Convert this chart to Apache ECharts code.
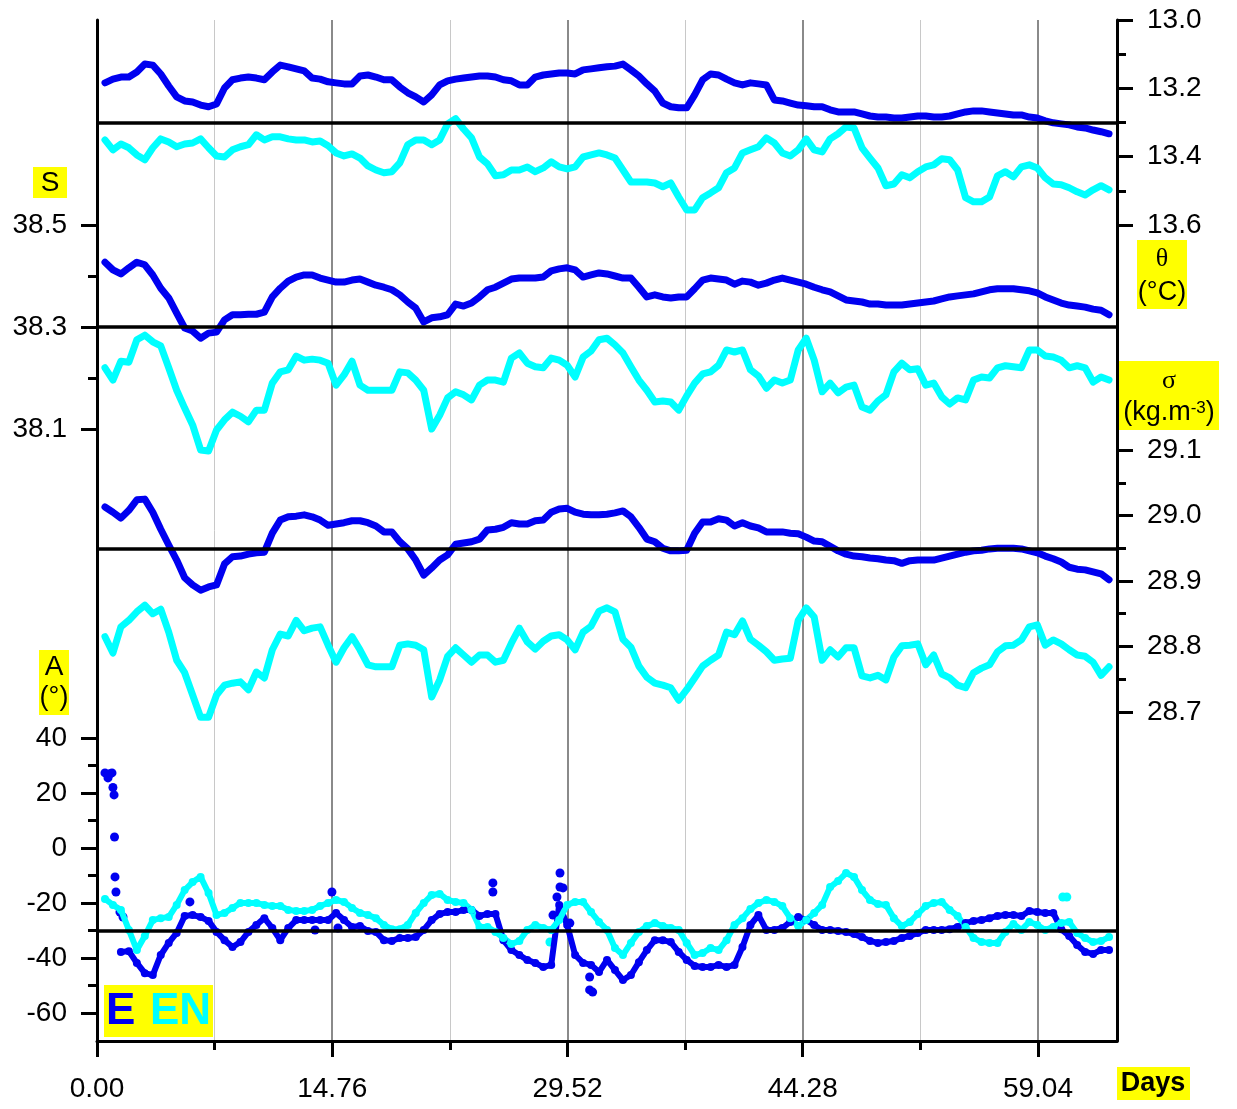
<!DOCTYPE html>
<html>
<head>
<meta charset="utf-8">
<script src="https://cdn.jsdelivr.net/npm/echarts@6/dist/echarts.min.js"></script>
<style>
  html, body { margin: 0; padding: 0; background: #ffffff; }
  #chart { width: 1237px; height: 1109px; }
</style>
</head>
<body>
<div id="chart"></div>
<script>
// Mooring record: potential temperature, salinity, density and current angle
// at two stations (E and EN), sampled every half day.
const days = [
  0.5,1,1.5,2,2.5,3,3.5,4,4.5,5,
  5.5,6,6.5,7,7.5,8,8.5,9,9.5,10,
  10.5,11,11.5,12,12.5,13,13.5,14,14.5,15,
  15.5,16,16.5,17,17.5,18,18.5,19,19.5,20,
  20.5,21,21.5,22,22.5,23,23.5,24,24.5,25,
  25.5,26,26.5,27,27.5,28,28.5,29,29.5,30,
  30.5,31,31.5,32,32.5,33,33.5,34,34.5,35,
  35.5,36,36.5,37,37.5,38,38.5,39,39.5,40,
  40.5,41,41.5,42,42.5,43,43.5,44,44.5,45,
  45.5,46,46.5,47,47.5,48,48.5,49,49.5,50,
  50.5,51,51.5,52,52.5,53,53.5,54,54.5,55,
  55.5,56,56.5,57,57.5,58,58.5,59,59.5,60,
  60.5,61,61.5,62,62.5,63,63.5
];

// Potential temperature (°C)
const thetaE = [
  13.184,13.173,13.167,13.167,13.152,13.129,13.132,13.158,13.193,13.225,
  13.237,13.240,13.249,13.254,13.246,13.199,13.175,13.170,13.167,13.170,
  13.175,13.152,13.132,13.137,13.143,13.149,13.170,13.173,13.181,13.184,
  13.187,13.187,13.164,13.161,13.167,13.175,13.175,13.196,13.213,13.225,
  13.240,13.219,13.190,13.178,13.173,13.170,13.167,13.164,13.164,13.167,
  13.175,13.178,13.190,13.190,13.167,13.161,13.158,13.155,13.155,13.158,
  13.146,13.143,13.140,13.137,13.135,13.129,13.146,13.164,13.187,13.208,
  13.243,13.254,13.257,13.257,13.219,13.175,13.158,13.161,13.173,13.184,
  13.190,13.184,13.187,13.190,13.234,13.237,13.243,13.249,13.251,13.254,
  13.254,13.263,13.269,13.269,13.269,13.275,13.281,13.284,13.284,13.287,
  13.287,13.284,13.281,13.281,13.284,13.284,13.281,13.275,13.269,13.266,
  13.266,13.269,13.272,13.275,13.278,13.278,13.284,13.287,13.295,13.301,
  13.304,13.307,13.313,13.316,13.322,13.327,13.333
];
const thetaEN = [
  13.351,13.380,13.363,13.374,13.395,13.409,13.374,13.348,13.357,13.371,
  13.363,13.360,13.348,13.374,13.398,13.401,13.380,13.371,13.365,13.336,
  13.351,13.342,13.342,13.348,13.351,13.351,13.357,13.354,13.368,13.389,
  13.398,13.392,13.404,13.427,13.439,13.447,13.444,13.418,13.365,13.351,
  13.351,13.365,13.351,13.304,13.289,13.319,13.345,13.401,13.421,13.456,
  13.453,13.439,13.439,13.430,13.444,13.433,13.415,13.430,13.436,13.430,
  13.401,13.395,13.389,13.395,13.404,13.439,13.474,13.474,13.474,13.477,
  13.488,13.477,13.518,13.556,13.556,13.520,13.506,13.491,13.447,13.433,
  13.389,13.380,13.371,13.345,13.360,13.389,13.398,13.380,13.348,13.380,
  13.386,13.348,13.333,13.313,13.316,13.374,13.404,13.433,13.485,13.480,
  13.453,13.462,13.444,13.430,13.424,13.406,13.409,13.439,13.520,13.532,
  13.532,13.518,13.456,13.444,13.459,13.430,13.424,13.433,13.462,13.480,
  13.482,13.491,13.503,13.512,13.497,13.485,13.497
];

// Salinity
const salE = [
  38.427,38.412,38.404,38.416,38.427,38.422,38.402,38.376,38.357,38.327,
  38.298,38.292,38.278,38.288,38.290,38.314,38.324,38.324,38.325,38.325,
  38.329,38.359,38.376,38.390,38.398,38.402,38.402,38.396,38.392,38.388,
  38.388,38.392,38.394,38.388,38.382,38.378,38.373,38.363,38.349,38.337,
  38.310,38.318,38.320,38.324,38.345,38.341,38.347,38.359,38.373,38.378,
  38.386,38.394,38.396,38.396,38.396,38.398,38.410,38.414,38.416,38.412,
  38.398,38.402,38.406,38.404,38.400,38.396,38.396,38.378,38.359,38.363,
  38.359,38.357,38.359,38.359,38.375,38.392,38.396,38.394,38.392,38.384,
  38.390,38.388,38.382,38.386,38.392,38.396,38.392,38.388,38.384,38.378,
  38.373,38.369,38.361,38.353,38.351,38.349,38.345,38.345,38.343,38.343,
  38.343,38.345,38.347,38.349,38.351,38.355,38.359,38.361,38.363,38.365,
  38.369,38.373,38.375,38.375,38.375,38.373,38.371,38.367,38.359,38.353,
  38.347,38.343,38.341,38.339,38.335,38.333,38.324
];
const salEN = [
  38.220,38.196,38.233,38.231,38.275,38.284,38.271,38.263,38.220,38.176,
  38.141,38.108,38.059,38.057,38.098,38.118,38.133,38.125,38.114,38.137,
  38.137,38.190,38.212,38.216,38.243,38.235,38.237,38.235,38.229,38.186,
  38.206,38.233,38.186,38.176,38.176,38.176,38.176,38.212,38.210,38.196,
  38.176,38.100,38.127,38.161,38.173,38.167,38.157,38.186,38.196,38.196,
  38.192,38.239,38.249,38.229,38.222,38.220,38.239,38.235,38.225,38.202,
  38.241,38.253,38.275,38.278,38.265,38.249,38.222,38.196,38.176,38.153,
  38.155,38.153,38.137,38.165,38.190,38.208,38.212,38.225,38.255,38.251,
  38.255,38.216,38.204,38.180,38.196,38.190,38.196,38.255,38.278,38.235,
  38.173,38.190,38.171,38.182,38.186,38.143,38.137,38.155,38.167,38.212,
  38.229,38.216,38.218,38.186,38.190,38.163,38.149,38.161,38.157,38.196,
  38.202,38.200,38.220,38.224,38.222,38.220,38.255,38.255,38.243,38.241,
  38.235,38.220,38.224,38.220,38.192,38.202,38.196
];

// Potential density (kg.m-3)
const sigmaE = [
  29.013,29.005,28.996,29.008,29.024,29.025,29.005,28.979,28.955,28.932,
  28.905,28.894,28.886,28.891,28.894,28.926,28.937,28.938,28.941,28.943,
  28.944,28.973,28.993,28.998,28.999,29.001,28.998,28.993,28.985,28.987,
  28.989,28.992,28.992,28.989,28.984,28.975,28.975,28.960,28.949,28.932,
  28.909,28.920,28.932,28.940,28.956,28.958,28.960,28.964,28.978,28.979,
  28.982,28.989,28.987,28.987,28.992,28.993,29.005,29.010,29.011,29.005,
  29.002,29.001,29.001,29.002,29.004,29.007,28.998,28.982,28.964,28.960,
  28.950,28.946,28.946,28.947,28.973,28.990,28.990,28.995,28.993,28.984,
  28.989,28.984,28.981,28.975,28.975,28.975,28.973,28.972,28.967,28.961,
  28.960,28.953,28.946,28.941,28.938,28.937,28.935,28.934,28.932,28.931,
  28.927,28.931,28.932,28.932,28.932,28.935,28.938,28.941,28.944,28.946,
  28.947,28.949,28.950,28.950,28.950,28.949,28.946,28.943,28.938,28.934,
  28.929,28.921,28.918,28.917,28.914,28.911,28.902
];
const sigmaEN = [
  28.815,28.790,28.830,28.840,28.853,28.863,28.850,28.857,28.822,28.779,
  28.760,28.726,28.692,28.692,28.726,28.741,28.744,28.746,28.734,28.761,
  28.752,28.795,28.819,28.816,28.840,28.824,28.828,28.830,28.802,28.776,
  28.798,28.815,28.795,28.772,28.769,28.769,28.769,28.802,28.804,28.802,
  28.795,28.723,28.749,28.785,28.798,28.787,28.776,28.787,28.787,28.776,
  28.779,28.805,28.828,28.807,28.796,28.808,28.816,28.818,28.810,28.795,
  28.822,28.831,28.854,28.859,28.853,28.811,28.799,28.770,28.753,28.744,
  28.741,28.737,28.718,28.734,28.752,28.770,28.779,28.787,28.822,28.818,
  28.839,28.811,28.802,28.792,28.779,28.781,28.782,28.840,28.859,28.845,
  28.779,28.795,28.784,28.798,28.798,28.755,28.752,28.756,28.749,28.784,
  28.801,28.802,28.804,28.772,28.787,28.758,28.752,28.741,28.737,28.760,
  28.767,28.772,28.792,28.801,28.802,28.810,28.830,28.833,28.802,28.810,
  28.804,28.795,28.787,28.785,28.776,28.756,28.769
];

// Current direction angle (°)
const angleE = [
  null,null,-37.8,-37.5,-41.8,-45.5,-46.2,-38.9,-34.5,-30.9,
  -24.7,-24.4,-25.1,-26.5,-30.5,-33.5,-36.0,-34.2,-30.5,-28.0,
  -25.5,-29.1,-33.5,-29.1,-26.2,-26.2,-26.2,-26.2,-26.2,-23.6,
  -26.2,-28.7,-28.4,-30.2,-30.5,-33.5,-33.8,-32.7,-32.7,-32.4,
  -29.8,-26.2,-24.0,-23.3,-23.3,-22.5,-22.5,-24.7,-24.0,-24.0,
  -33.5,-37.1,-38.9,-40.7,-41.8,-43.3,-42.5,-20.7,-28.0,-38.9,
  -41.8,-42.5,-45.1,-40.7,-44.4,-48.0,-46.2,-41.5,-37.1,-33.5,
  -33.5,-34.2,-37.8,-40.7,-42.9,-43.3,-43.3,-42.5,-43.3,-42.5,
  -36.0,-28.0,-24.4,-29.8,-29.8,-29.1,-26.9,-25.1,-26.2,-28.0,
  -29.8,-29.8,-30.2,-30.5,-31.3,-32.4,-33.8,-34.5,-34.2,-33.8,
  -32.7,-32.0,-30.9,-29.8,-29.8,-29.8,-29.5,-28.7,-27.3,-26.5,
  -26.2,-25.5,-24.7,-24.4,-24.4,-24.7,-22.9,-23.3,-23.6,-23.6,
  -29.5,-32.0,-35.3,-37.8,-38.5,-37.1,-37.1
];
const angleEN = [
  -18.5,-20.7,-22.5,-29.8,-37.1,-32.0,-26.2,-25.5,-25.1,-20.7,
  -15.3,-12.4,-10.5,-16.4,-24.4,-23.6,-21.8,-20.0,-20.0,-20.0,
  -20.7,-21.1,-21.1,-22.5,-22.9,-22.9,-22.5,-21.1,-20.0,-18.9,
  -19.6,-21.8,-23.6,-24.4,-25.5,-28.0,-29.5,-29.5,-28.0,-23.6,
  -20.0,-17.1,-16.7,-18.9,-19.6,-20.0,-22.5,-28.7,-28.7,-30.5,
  -32.7,-34.9,-33.8,-29.8,-28.0,-29.1,-29.8,-26.2,-20.7,-19.6,
  -19.6,-23.3,-26.9,-29.8,-36.4,-38.9,-34.5,-30.5,-28.4,-27.3,
  -28.4,-29.1,-29.8,-34.5,-38.9,-38.2,-36.4,-37.1,-33.5,-28.0,
  -25.5,-22.2,-20.0,-18.9,-19.6,-21.1,-25.5,-28.4,-26.2,-23.6,
  -20.7,-14.2,-12.0,-9.1,-10.5,-15.3,-18.9,-20.4,-20.7,-25.5,
  -28.4,-26.9,-24.0,-21.1,-20.0,-19.6,-22.5,-24.7,-28.7,-32.7,
  -34.2,-34.5,-34.5,-30.5,-27.6,-29.8,-26.9,-28.0,-29.8,-28.7,
  -27.3,-26.9,-30.9,-32.7,-34.2,-33.8,-32.4
];
// Isolated angle readings [day, angle]
const angleSpikesE = [
  [0.50,27.3],[0.69,25.5],[0.82,27.0],[0.94,27.3],[1.00,22.0],[1.07,19.3],
  [1.10,4.0],[1.13,-10.5],[1.19,-16.0],[1.44,-23.3],[1.63,-25.1],[5.83,-19.6],
  [13.68,-29.8],[14.74,-16.0],[15.12,-29.1],[24.84,-12.7],[24.84,-16.0],
  [28.61,-24.4],[28.86,-17.8],[29.05,-9.1],[29.05,-14.2],[29.24,-14.5],
  [29.67,-27.3],[30.91,-46.9],[30.91,-51.6],[31.10,-52.4]
];
const angleSpikesEN = [[28.42,-34.2],[60.60,-17.8],[60.85,-17.8]];

// Axis ticks
const dayTicks = [0, 14.76, 29.52, 44.28, 59.04];
const dayMinorTicks = [7.38, 22.14, 36.9, 51.66];
const thetaTicks = [13.0, 13.2, 13.4, 13.6];
const thetaMinorTicks = [13.1, 13.3, 13.5];
const salTicks = [38.1, 38.3, 38.5];
const salMinorTicks = [38.2, 38.4];
const sigmaTicks = [28.7, 28.8, 28.9, 29.0, 29.1];
const sigmaMinorTicks = [28.75, 28.85, 28.95, 29.05];
const angleTicks = [-60, -40, -20, 0, 20, 40];
const angleMinorTicks = [-50, -30, -10, 10, 30];

// Reference levels drawn across each panel
const refTheta = 13.3;
const refSal = 38.3;
const refSigma = 28.95;
const refAngle = -30;

const FONT = "'Liberation Sans', Arial, sans-serif";
const SERIF = "'Liberation Serif', 'Times New Roman', serif";
const BLUE = '#0000f0';
const CYAN = '#00ffff';
const YELLOW = '#ffff00';
const DAY_MAX = 64;

const chart = echarts.init(document.getElementById('chart'), null, { renderer: 'canvas' });

const L = 97, R = 120;
const grids = [
  { left: L, right: R, top: 20, bottom: 68 },       // frame, day axis
  { left: L, right: R, top: 20, height: 205 },      // theta
  { left: L, right: R, top: 225, height: 204 },     // salinity
  { left: L, right: R, top: 450, height: 262 },     // sigma
  { left: L, right: R, top: 738, height: 275 }      // angle
];

function hiddenX(gridIndex) {
  return { gridIndex, type: 'value', min: 0, max: DAY_MAX, show: false };
}

function frameX(extra) {
  return Object.assign({
    gridIndex: 0, type: 'value', position: 'bottom', min: 0, max: DAY_MAX,
    axisLine: { show: false, onZero: false },
    axisTick: { show: false },
    axisLabel: { show: false },
    splitLine: { show: false }
  }, extra);
}

const xAxes = [
  frameX({ interval: 7.38, splitLine: { show: true, showMinLine: false, showMaxLine: false,
    lineStyle: { color: '#c8c8c8', width: 1 } } }),
  frameX({ interval: 14.76, splitLine: { show: true, showMinLine: false, showMaxLine: false,
    lineStyle: { color: '#8a8a8a', width: 2 } } }),
  frameX({
    axisLine: { show: true, onZero: false, lineStyle: { color: '#000', width: 3 } },
    axisTick: { show: true, customValues: dayMinorTicks, length: 9, lineStyle: { color: '#000', width: 3 } },
    axisLabel: { show: true, customValues: dayTicks, margin: 34, color: '#000',
      fontSize: 28, fontFamily: FONT, formatter: v => Number(v).toFixed(2) }
  }),
  frameX({
    axisTick: { show: true, customValues: dayTicks, length: 16, lineStyle: { color: '#000', width: 3 } }
  }),
  hiddenX(1), hiddenX(2), hiddenX(3), hiddenX(4)
];

function frameY(position) {
  return {
    gridIndex: 0, type: 'value', position, min: 0, max: 1,
    axisLine: { show: true, onZero: false, lineStyle: { color: '#000', width: 3 } },
    axisTick: { show: false }, axisLabel: { show: false }, splitLine: { show: false }
  };
}

function panelY(gridIndex, position, min, max, ticks, minorTicks, digits, inverse) {
  const base = {
    gridIndex, type: 'value', position, min, max, inverse: !!inverse,
    axisLine: { show: false, onZero: false },
    splitLine: { show: false }
  };
  const major = Object.assign({}, base, {
    axisTick: { show: true, customValues: ticks, length: 16, lineStyle: { color: '#000', width: 3 } },
    axisLabel: { show: true, customValues: ticks, margin: 30, color: '#000',
      fontSize: 28, fontFamily: FONT, formatter: v => Number(v).toFixed(digits) }
  });
  const minor = Object.assign({}, base, {
    axisTick: { show: true, customValues: minorTicks, length: 9, lineStyle: { color: '#000', width: 3 } },
    axisLabel: { show: false }
  });
  return [major, minor];
}

const yAxes = [
  frameY('left'), frameY('right'),
  ...panelY(1, 'right', 13.0, 13.6, thetaTicks, thetaMinorTicks, 1, true),   // 2,3
  ...panelY(2, 'left', 38.1, 38.5, salTicks, salMinorTicks, 1, false),       // 4,5
  ...panelY(3, 'right', 28.7, 29.1, sigmaTicks, sigmaMinorTicks, 1, false),  // 6,7
  ...panelY(4, 'left', -60, 40, angleTicks, angleMinorTicks, 0, false)       // 8,9
];

function pairs(values) {
  return days.map((d, i) => [d, values[i]]);
}

function refLine(value) {
  return {
    silent: true, symbol: ['none', 'none'], animation: false,
    label: { show: false },
    lineStyle: { color: '#000', width: 3.5, type: 'solid' },
    emphasis: { disabled: true },
    data: [{ yAxis: value }]
  };
}

function trace(name, xi, yi, values, color, ref) {
  const s = {
    type: 'line', name, xAxisIndex: xi, yAxisIndex: yi, data: pairs(values),
    showSymbol: false, clip: false, animation: false,
    lineStyle: { color, width: 7, join: 'round', cap: 'round' },
    itemStyle: { color }, emphasis: { disabled: true }
  };
  if (ref !== undefined) s.markLine = refLine(ref);
  return s;
}

function dotted(name, values, color) {
  return {
    type: 'line', name, xAxisIndex: 7, yAxisIndex: 8, data: pairs(values),
    showSymbol: true, showAllSymbol: true, symbol: 'circle', symbolSize: 8,
    clip: false, animation: false, connectNulls: false,
    lineStyle: { color, width: 6, join: 'round', cap: 'round' },
    itemStyle: { color }, emphasis: { disabled: true }
  };
}

function spikes(name, data, color, ref) {
  const s = {
    type: 'scatter', name, xAxisIndex: 7, yAxisIndex: 8, data,
    symbol: 'circle', symbolSize: 9, clip: false, animation: false,
    itemStyle: { color, opacity: 1 }, emphasis: { disabled: true }
  };
  if (ref !== undefined) s.markLine = refLine(ref);
  return s;
}

const series = [
  trace('E', 4, 2, thetaE, BLUE),
  trace('EN', 4, 2, thetaEN, CYAN, refTheta),
  trace('E', 5, 4, salE, BLUE),
  trace('EN', 5, 4, salEN, CYAN, refSal),
  trace('E', 6, 6, sigmaE, BLUE),
  trace('EN', 6, 6, sigmaEN, CYAN, refSigma),
  dotted('E', angleE, BLUE),
  spikes('E', angleSpikesE, BLUE),
  dotted('EN', angleEN, CYAN),
  spikes('EN', angleSpikesEN, CYAN, refAngle)
];

function box(x, y, w, h) {
  return { type: 'rect', silent: true, z: 10, shape: { x, y, width: w, height: h }, style: { fill: YELLOW } };
}
function label(x, y, text, font, fill, align, rich) {
  const style = { x, y, text, font, fill: fill || '#000', textAlign: align || 'center', textVerticalAlign: 'middle' };
  if (rich) style.rich = rich;
  return { type: 'text', silent: true, z: 11, style };
}

const graphic = [
  box(33, 167, 34, 31), label(50, 183, 'S', '28px ' + FONT),
  box(1137, 240, 50, 69), label(1162, 259, 'θ', '26px ' + SERIF), label(1162, 293, '(°C)', '27px ' + FONT),
  box(1119, 361, 100, 69), label(1169, 381, 'σ', '26px ' + SERIF),
  label(1169, 413, '(kg.m{sup|-3})', '27px ' + FONT, '#000', 'center',
    { sup: { fontSize: 17, fontFamily: FONT, fill: '#000', verticalAlign: 'top' } }),
  box(39, 650, 30, 65), label(54, 667, 'A', '28px ' + FONT), label(54, 698, '(°)', '27px ' + FONT),
  box(104, 985, 109, 52),
  label(106, 1012, 'E', 'bold 44px ' + FONT, BLUE, 'left'),
  label(150, 1012, 'EN', 'bold 44px ' + FONT, CYAN, 'left'),
  box(1117, 1067, 73, 33), label(1153, 1084, 'Days', 'bold 27px ' + FONT)
];

chart.setOption({
  backgroundColor: '#ffffff',
  animation: false,
  grid: grids,
  xAxis: xAxes,
  yAxis: yAxes,
  series,
  graphic
});
</script>
</body>
</html>
